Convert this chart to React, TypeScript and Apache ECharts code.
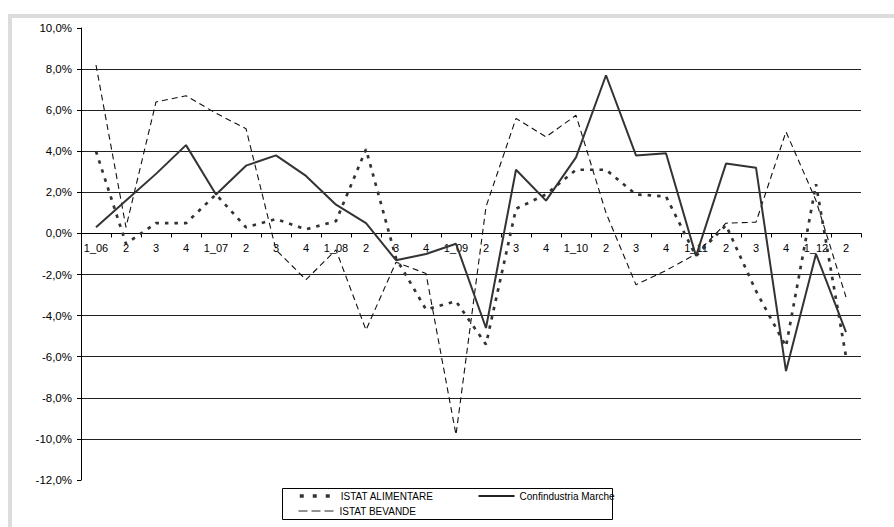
import React, { useEffect, useRef } from 'react';
import * as echarts from 'echarts';

const categories = [
  '1_06', '2', '3', '4', '1_07', '2', '3', '4', '1_08', '2', '3', '4', '1_09',
  '2', '3', '4', '1_10', '2', '3', '4', '1_11', '2', '3', '4', '1_12', '2',
];

const confindustriaMarche = [
  0.3, 1.6, 2.9, 4.3, 1.9, 3.3, 3.8, 2.8, 1.4, 0.5, -1.3, -1.0, -0.5,
  -4.6, 3.1, 1.6, 3.7, 7.7, 3.8, 3.9, -1.1, 3.4, 3.2, -6.7, -1.0, -4.8,
];

const istatAlimentare = [
  4.0, -0.5, 0.5, 0.5, 1.9, 0.3, 0.7, 0.2, 0.6, 4.1, -1.2, -3.7, -3.3,
  -5.4, 1.2, 1.9, 3.1, 3.1, 1.9, 1.8, -1.1, 0.4, -2.8, -5.5, 2.4, -6.0,
];

const istatBevande = [
  8.2, 0.3, 6.4, 6.7, 5.85, 5.1, -0.8, -2.25, -0.8, -4.7, -1.4, -1.95, -9.8,
  1.3, 5.6, 4.7, 5.75, 1.0, -2.5, -1.8, -1.0, 0.5, 0.55, 4.95, 1.6, -3.1,
];

const yMin = -12;
const yMax = 10;
const yStep = 2;

const seriesNames = ['ISTAT ALIMENTARE', 'Confindustria Marche', 'ISTAT BEVANDE'];

const W = 894;
const H = 527;
const GRID = { left: 81, right: 33, top: 28, bottom: 47 };

export default function App() {
  const ref = useRef<HTMLDivElement>(null);

  useEffect(() => {
    const chart = echarts.init(ref.current!, null, { renderer: 'svg' });
    const font = "'Liberation Sans', Arial, sans-serif";
    const legendText = { fontSize: 10, color: '#000', fontFamily: font };
    const plotH = H - GRID.top - GRID.bottom;
    // move the category axis from the bottom of the grid up to the value 0
    const zeroOffset = -plotH * ((0 - yMin) / (yMax - yMin));
    const hiddenSymbol = {
      color: 'rgba(0,0,0,0)',
      borderColor: 'rgba(0,0,0,0)',
      borderWidth: 0,
    };
    chart.setOption({
      animation: false,
      backgroundColor: '#fff',
      textStyle: { fontFamily: font },
      grid: { ...GRID, containLabel: false },
      xAxis: {
        type: 'category',
        data: categories,
        boundaryGap: true,
        position: 'bottom',
        offset: zeroOffset,
        axisLine: { show: true, onZero: false, lineStyle: { color: '#000', width: 1 } },
        axisTick: { show: true, length: 4, interval: 0, lineStyle: { color: '#000' } },
        axisLabel: { interval: 0, fontSize: 11, margin: 9, color: '#000', fontFamily: font },
        splitLine: { show: false },
      },
      yAxis: {
        type: 'value',
        min: yMin,
        max: yMax,
        interval: yStep,
        axisLine: { show: true, onZero: false, lineStyle: { color: '#000', width: 1 } },
        axisTick: { show: true, length: 4, lineStyle: { color: '#000' } },
        axisLabel: {
          fontSize: 11.5,
          margin: 9,
          color: '#000',
          fontFamily: font,
          formatter: (v: number) => v.toFixed(1).replace('.', ',') + '%',
        },
        splitLine: {
          show: true,
          showMinLine: false,
          showMaxLine: false,
          lineStyle: { color: '#222', width: 1 },
        },
      },
      legend: [
        {
          data: [
            {
              name: seriesNames[0],
              lineStyle: { color: '#333', width: 3.5, type: [4, 9] },
              itemStyle: hiddenSymbol,
            },
            {
              name: seriesNames[1],
              lineStyle: { color: '#222', width: 2, type: 'solid' },
              itemStyle: hiddenSymbol,
            },
          ],
          left: 298,
          top: 491,
          orient: 'horizontal',
          itemWidth: 36,
          itemHeight: 12,
          itemGap: 44,
          padding: 0,
          selectedMode: false,
          itemStyle: hiddenSymbol,
          textStyle: legendText,
        },
        {
          data: [
            {
              name: seriesNames[2],
              lineStyle: { color: '#222', width: 1, type: [9, 4] },
              itemStyle: hiddenSymbol,
            },
          ],
          left: 298,
          top: 506,
          orient: 'horizontal',
          itemWidth: 36,
          itemHeight: 12,
          padding: 0,
          selectedMode: false,
          itemStyle: hiddenSymbol,
          textStyle: legendText,
        },
      ],
      graphic: [
        {
          type: 'rect',
          silent: true,
          z: -10,
          shape: { x: 10, y: 16, width: 900, height: 600 },
          style: { fill: 'none', stroke: '#dcdcdc', lineWidth: 4 },
        },
        {
          type: 'rect',
          silent: true,
          shape: { x: 282.5, y: 488.5, width: 330, height: 31 },
          style: { fill: 'none', stroke: '#000', lineWidth: 1 },
        },
      ],
      series: [
        {
          name: seriesNames[2],
          type: 'line',
          data: istatBevande,
          symbol: 'none',
          color: '#111',
          lineStyle: { color: '#111', width: 1.1, type: [6, 4] },
          z: 2,
        },
        {
          name: seriesNames[0],
          type: 'line',
          data: istatAlimentare,
          symbol: 'none',
          color: '#333',
          lineStyle: { color: '#333', width: 2.7, type: [3.5, 6] },
          z: 3,
        },
        {
          name: seriesNames[1],
          type: 'line',
          data: confindustriaMarche,
          symbol: 'none',
          color: '#333',
          lineStyle: { color: '#333', width: 2, type: 'solid' },
          z: 4,
        },
      ],
    });
    return () => chart.dispose();
  }, []);

  return (
    <div
      ref={ref}
      style={{ position: 'fixed', left: 0, top: 0, width: W, height: H }}
    />
  );
}
